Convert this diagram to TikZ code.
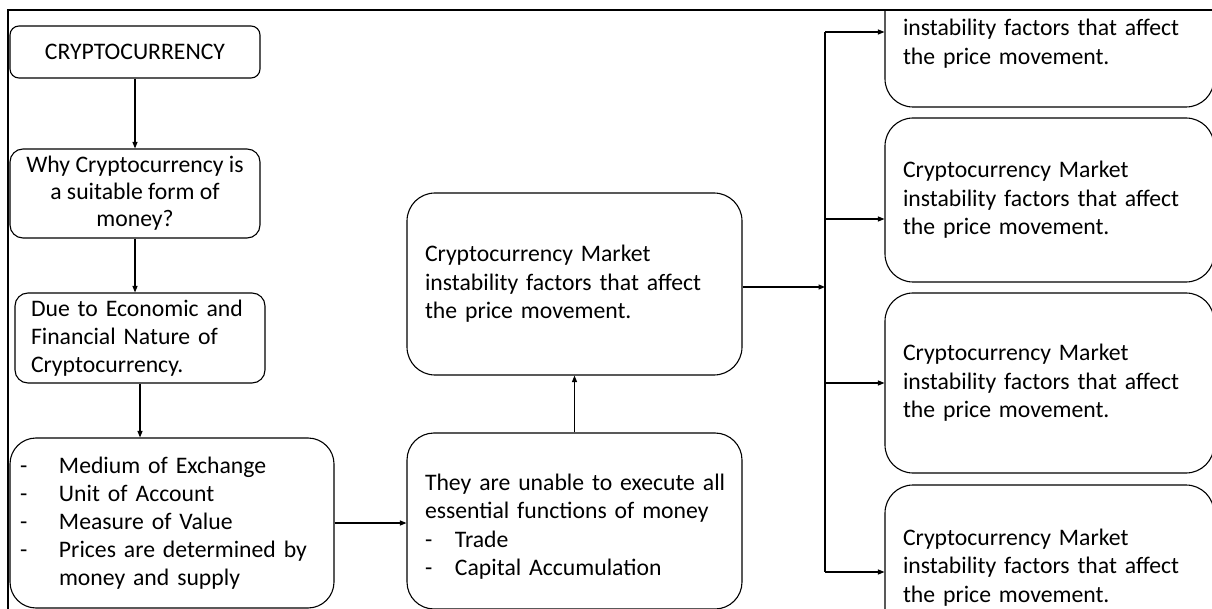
\documentclass[tikz,border=0pt]{standalone}
\usepackage{fontspec}
\newfontfamily\calfont{Carlito}
\usetikzlibrary{arrows.meta}
\begin{document}
\begin{tikzpicture}[x=1pt,y=-1pt,
  base/.style={draw, line width=1.1pt, inner ysep=0pt, anchor=center,
    font={\calfont\fontsize{23.7}{28.5}\selectfont}},
  cbox/.style={base, align=center, inner xsep=0pt},
  lbox/.style={base, align=left},
  arr/.style={line width=1.1pt, -{Triangle[length=6.5pt,width=5pt]}},
  frame/.style={line width=2.6pt}]
\useasboundingbox (0,0) rectangle (1212,609);
\begin{scope}
\clip (0,10) rectangle (1212,609);
% left column
\node[cbox, minimum width=250, minimum height=52, rounded corners=9] (b1) at (135,52) {CRYPTOCURRENCY};
\node[cbox, minimum width=250, minimum height=89, rounded corners=13,
  font={\calfont\fontsize{23.7}{27}\selectfont}] (b2) at (135,193.5)
  {Why Cryptocurrency is\\a suitable form of\\money?};
\node[lbox, minimum width=250, minimum height=90, rounded corners=13,
  inner xsep=16, text width=218, font={\calfont\fontsize{23.7}{28}\selectfont}] (b3) at (140,338)
  {Due to Economic and\\Financial Nature of\\Cryptocurrency.};
\node[lbox, minimum width=324, minimum height=170, rounded corners=26,
  inner xsep=10, text width=304, font={\calfont\fontsize{23.7}{28}\selectfont}] (b4) at (172,523)
  {\makebox[39pt][l]{-}Medium of Exchange\\
   \makebox[39pt][l]{-}Unit of Account\\
   \makebox[39pt][l]{-}Measure of Value\\
   \makebox[39pt][l]{-}Prices are determined by\\
   \hspace*{39pt}money and supply};
% middle column
\node[lbox, minimum width=335, minimum height=176, rounded corners=27,
  inner xsep=18, text width=299] (b5) at (574.5,521)
  {\rule{0pt}{28pt}\mbox{They are unable to execute all}\\essential functions of money\\
   \makebox[30pt][l]{-}Trade\\
   \makebox[30pt][l]{-}Capital Accumulation};
\node[lbox, minimum width=335, minimum height=182, rounded corners=28,
  inner xsep=18, text width=299] (b6) at (574.5,284)
  {Cryptocurrency Market\\instability factors that affect\\the price movement.};
% right column
\node[lbox, minimum width=329, minimum height=154, rounded corners=28,
  inner xsep=18, text width=293] (r1) at (1049.5,30)
  {\phantom{Cy}\\instability factors that affect\\the price movement.};
\node[lbox, minimum width=329, minimum height=164, rounded corners=28,
  inner xsep=18, text width=293] (r2) at (1049.5,200)
  {Cryptocurrency Market\\instability factors that affect\\the price movement.};
\node[lbox, minimum width=329, minimum height=180, rounded corners=28,
  inner xsep=18, text width=293] (r3) at (1049.5,383)
  {Cryptocurrency Market\\instability factors that affect\\the price movement.};
\node[lbox, minimum width=329, minimum height=165, rounded corners=28,
  inner xsep=18, text width=293] (r4) at (1049.5,567.5)
  {Cryptocurrency Market\\instability factors that affect\\the price movement.};
% bus
\coordinate (bt) at (825,32);
\coordinate (b2j) at (825,219);
\coordinate (b3j) at (825,383);
\coordinate (bb) at (825,572);
% connectors
\draw[arr] (b1.south) -- (b1.south |- b2.north);
\draw[arr] (b2.south) -- (b2.south |- b3.north);
\draw[arr] (b3.south) -- (b3.south |- b4.north);
\draw[arr] (b4.east) -- (b4.east -| b5.west);
\draw[arr] (b5.north) -- (b6.south);
\draw[arr] (b6.east |- 0,287) -- (bt |- 0,287);
\draw[line width=1.1pt] (bt) -- (bb);
\draw[arr] (bt) -- (bt -| r1.west);
\draw[arr] (b2j) -- (b2j -| r2.west);
\draw[arr] (b3j) -- (b3j -| r3.west);
\draw[arr] (bb) -- (bb -| r4.west);
\end{scope}
% frame
\draw[frame] (8,609) -- (8,10) -- (1212,10);
\end{tikzpicture}
\end{document}
